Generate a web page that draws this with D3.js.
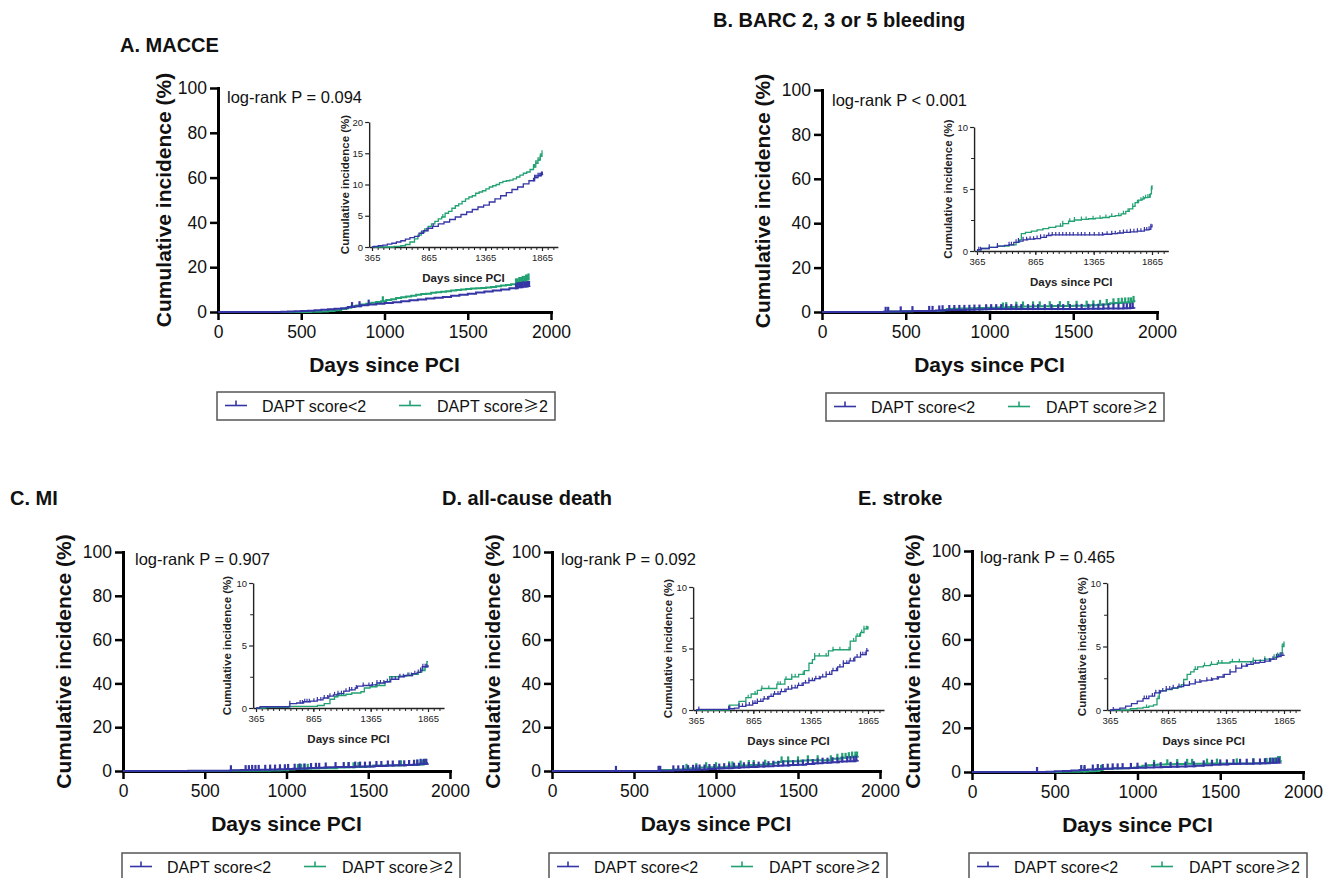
<!DOCTYPE html>
<html><head><meta charset="utf-8">
<script src="https://cdn.jsdelivr.net/npm/d3@7"></script>
<style>
body{margin:0;background:#fff;}
text{font-family:"Liberation Sans",Arial,sans-serif;}
</style></head>
<body><svg id="chart" width="1325" height="878"></svg>
<script>
// ---------------- DATA ----------------
const groupNames = ["DAPT score<2", "DAPT score\u22652"];
const mainXTicks = [0, 500, 1000, 1500, 2000];
const mainYTicks = [0, 20, 40, 60, 80, 100];
const insetXTicks = [365, 865, 1365, 1865];

// A. MACCE
const daysA_lt2 = [0,380,420,460,500,540,580,620,660,700,740,780,820,860,900,950,1000,1050,1100,1150,1200,1250,1300,1350,1400,1450,1500,1550,1600,1650,1700,1750,1800,1830,1860,1870];
const pctA_lt2  = [0,0.1,0.2,0.3,0.45,0.6,0.8,1.0,1.25,1.5,1.7,2.2,2.6,3.0,3.3,3.7,4.0,4.4,4.8,5.2,5.6,6.0,6.4,6.7,7.2,7.7,8.2,8.7,9.2,9.6,10.1,10.6,11.1,11.4,11.6,11.7];
const daysA_ge2 = [0,500,560,620,660,700,740,770,800,830,860,890,920,950,980,1010,1040,1070,1100,1130,1160,1190,1220,1250,1280,1310,1340,1370,1400,1430,1460,1490,1520,1550,1580,1610,1640,1670,1700,1730,1760,1790,1810,1830,1850,1865];
const pctA_ge2  = [0,0,0.1,0.2,0.4,0.8,1.3,1.9,2.4,2.9,3.3,3.7,4.1,4.5,4.8,5.4,5.7,6.2,6.6,6.9,7.3,7.7,8.0,8.2,8.6,8.8,9.0,9.3,9.6,9.8,10.0,10.3,10.5,10.6,10.7,10.9,11.2,11.5,11.8,12.0,12.4,12.8,13.4,13.9,14.5,15.0];
const censA_lt2 = [805,850,905,1790,1800,1810,1820,1830,1840,1850,1860,1868];
const censA_ge2 = [990,1790,1800,1810,1820,1830,1840,1850,1858,1865];

// B. BARC 2, 3 or 5 bleeding
const daysB_lt2 = [0,370,400,470,540,600,640,680,720,760,800,860,910,960,1000,1450,1520,1570,1620,1680,1740,1800,1840,1855,1865];
const pctB_lt2  = [0,0.1,0.2,0.3,0.4,0.45,0.5,0.7,0.8,0.9,0.95,1.0,1.1,1.25,1.3,1.35,1.4,1.45,1.5,1.55,1.6,1.7,1.75,1.95,2.15];
const daysB_ge2 = [0,370,400,470,540,640,700,730,745,780,830,880,930,980,1040,1100,1150,1200,1260,1320,1380,1440,1500,1550,1600,1640,1670,1700,1720,1750,1780,1800,1830,1850,1860,1865];
const pctB_ge2  = [0,0.1,0.2,0.3,0.4,0.5,0.7,0.9,1.4,1.5,1.6,1.7,1.8,1.9,2.0,2.2,2.4,2.5,2.55,2.6,2.65,2.7,2.8,2.85,3.0,3.2,3.4,3.6,3.9,4.1,4.2,4.3,4.35,4.6,5.0,5.3];
const censB_lt2 = [380,395,470,540,640,660,700,720,760,790,820,850,880,910,940,980,1010,1040,1070,1100,1130,1160,1190,1230,1260,1290,1330,1370,1410,1440,1480,1520,1550,1590,1620,1650,1680,1710,1740,1770,1800,1820,1840,1855];
const censB_ge2 = [1080,1100,1160,1200,1260,1300,1360,1420,1470,1520,1580,1620,1660,1700,1740,1770,1790,1810,1830,1845,1860];

// C. MI
const daysC_lt2 = [0,400,660,720,780,840,900,950,1000,1040,1080,1130,1180,1230,1250,1300,1370,1420,1490,1540,1610,1660,1730,1770,1800,1815,1865];
const pctC_lt2  = [0,0.1,0.35,0.4,0.5,0.55,0.65,0.8,0.95,1.05,1.15,1.35,1.45,1.6,1.75,1.8,1.85,2.0,2.1,2.3,2.5,2.6,2.75,2.85,3.0,3.3,3.45];
const daysC_ge2 = [0,450,650,900,960,1010,1050,1080,1150,1200,1280,1310,1360,1420,1490,1530,1610,1680,1730,1780,1810,1840,1855,1865];
const pctC_ge2  = [0,0.05,0.13,0.2,0.35,0.7,0.9,1.0,1.1,1.2,1.3,1.6,1.7,1.8,2.1,2.5,2.55,2.6,2.7,2.85,3.0,3.3,3.7,3.7];
const censC_lt2 = [660,750,770,790,810,830,870,900,930,960,990,1010,1050,1080,1110,1150,1180,1200,1240,1300,1350,1380,1420,1450,1480,1510,1550,1580,1620,1650,1690,1720,1750,1780,1800,1820,1840,1855];
const censC_ge2 = [1070,1090,1110,1130,1380,1410,1440,1700,1800,1830,1850];

// D. all-cause death
const daysD_lt2 = [0,385,650,700,740,800,860,900,950,1000,1040,1100,1150,1200,1250,1300,1350,1400,1450,1500,1550,1600,1650,1700,1750,1800,1850,1865];
const pctD_lt2  = [0,0.05,0.1,0.15,0.3,0.4,0.55,0.7,0.9,1.1,1.3,1.5,1.7,1.8,2.0,2.2,2.4,2.55,2.7,2.9,3.2,3.5,3.8,4.0,4.3,4.5,4.8,4.9];
const daysD_ge2 = [0,655,740,800,846,900,935,1070,1140,1200,1260,1310,1350,1380,1400,1520,1560,1710,1760,1800,1830,1865];
const pctD_ge2  = [0,0.4,0.7,1.0,1.3,1.6,1.75,2.1,2.5,2.7,2.9,3.2,3.8,4.1,4.4,4.8,4.9,5.6,6.0,6.3,6.6,6.8];
const censD_lt2 = [390,650,660,740,770,800,830,860,880,900,930,960,990,1020,1050,1080,1110,1140,1170,1200,1230,1260,1290,1320,1350,1380,1410,1440,1470,1500,1530,1560,1590,1620,1650,1680,1710,1740,1770,1800,1820,1840,1855];
const censD_ge2 = [820,880,940,1000,1080,1100,1150,1200,1230,1300,1400,1440,1500,1560,1620,1700,1740,1770,1790,1810,1830,1850,1860];

// E. stroke
const daysE_lt2 = [0,365,400,450,500,550,600,650,700,750,800,850,900,950,1000,1050,1100,1150,1200,1250,1300,1350,1400,1450,1500,1550,1600,1650,1700,1750,1800,1840,1865];
const pctE_lt2  = [0,0,0.05,0.15,0.3,0.5,0.7,0.9,1.1,1.35,1.5,1.65,1.75,1.85,1.95,2.05,2.2,2.3,2.35,2.45,2.6,2.8,3.0,3.3,3.45,3.6,3.7,3.75,3.85,4.0,4.2,4.3,4.35];
const daysE_ge2 = [0,540,600,650,700,740,770,790,800,850,900,950,980,1000,1030,1060,1090,1120,1170,1230,1290,1400,1600,1700,1780,1810,1835,1850,1865];
const pctE_ge2  = [0,0.1,0.15,0.2,0.3,0.4,0.9,1.4,1.5,1.6,1.7,1.8,2.0,2.4,2.8,3.0,3.2,3.4,3.5,3.6,3.7,3.8,3.9,4.0,4.15,4.3,4.5,5.0,5.4];
const censE_lt2 = [393,660,680,730,760,790,820,850,880,910,960,1000,1050,1100,1140,1200,1240,1290,1340,1400,1450,1500,1540,1580,1620,1660,1700,1740,1770,1800,1820,1840,1855];
const censE_ge2 = [680,780,1100,1180,1240,1300,1330,1420,1480,1600,1700,1780,1810,1830,1850,1860];

const titles = ["A. MACCE", "B. BARC 2, 3 or 5 bleeding", "C. MI", "D. all-cause death", "E. stroke"];
const pTexts = ["log-rank P = 0.094", "log-rank P < 0.001", "log-rank P = 0.907", "log-rank P = 0.092", "log-rank P = 0.465"];
const insetMax = [20, 10, 10, 10, 10];
const insetYTicksA = [0, 5, 10, 15, 20];
const insetYTicks = [0, 5, 10];

// ---------------- LAYOUT ----------------
const colors = ["#3535a5", "#22a172"];
const panels = [
  {title:{x:120,y:52}, m:{x0:218,x1:551,y0:312,y1:88}, ylab:163, p:{x:227,y:103},
   ins:{xL:372,xR:542,y0:247,yT:122,ylab:345}, leg:{x:217,y:392},
   series:[[daysA_lt2,pctA_lt2,censA_lt2],[daysA_ge2,pctA_ge2,censA_ge2]]},
  {title:{x:713,y:27}, m:{x0:822,x1:1157,y0:312,y1:90}, ylab:762, p:{x:832,y:106},
   ins:{xL:977,xR:1152,y0:251,yT:127,ylab:948}, leg:{x:826,y:393},
   series:[[daysB_lt2,pctB_lt2,censB_lt2],[daysB_ge2,pctB_ge2,censB_ge2]]},
  {title:{x:10,y:505}, m:{x0:123,x1:450,y0:771,y1:552}, ylab:63, p:{x:135,y:565},
   ins:{xL:256,xR:428,y0:708,yT:583,ylab:227}, leg:{x:122,y:853},
   series:[[daysC_lt2,pctC_lt2,censC_lt2],[daysC_ge2,pctC_ge2,censC_ge2]]},
  {title:{x:442,y:505}, m:{x0:552,x1:880,y0:771,y1:552}, ylab:492, p:{x:561,y:565},
   ins:{xL:696,xR:868,y0:710,yT:587,ylab:668}, leg:{x:549,y:853},
   series:[[daysD_lt2,pctD_lt2,censD_lt2],[daysD_ge2,pctD_ge2,censD_ge2]]},
  {title:{x:858,y:505}, m:{x0:972,x1:1303,y0:772,y1:551}, ylab:912, p:{x:980,y:563},
   ins:{xL:1110,xR:1284,y0:710,yT:583,ylab:1082}, leg:{x:969,y:853},
   series:[[daysE_lt2,pctE_lt2,censE_lt2],[daysE_ge2,pctE_ge2,censE_ge2]]}
];

const svg = d3.select("#chart");
svg.append("rect").attr("width",1325).attr("height",878).attr("fill","#fff");

function stepVal(days, vals, d){
  const i = d3.bisectRight(days, d) - 1;
  return vals[Math.max(0,i)];
}

panels.forEach((P, pi) => {
  const g = svg.append("g");
  g.append("text").attr("x",P.title.x).attr("y",P.title.y)
    .attr("font-size",20).attr("font-weight","bold").attr("fill","#111").text(titles[pi]);

  // ----- main plot -----
  const x = d3.scaleLinear().domain([0,2000]).range([P.m.x0,P.m.x1]);
  const y = d3.scaleLinear().domain([0,100]).range([P.m.y0,P.m.y1]);
  const xa = g.append("g").attr("transform",`translate(0,${P.m.y0})`)
    .call(d3.axisBottom(x).tickValues(mainXTicks).tickFormat(d3.format("d")).tickSize(8).tickSizeOuter(0).tickPadding(6));
  const ya = g.append("g").attr("transform",`translate(${P.m.x0},0)`)
    .call(d3.axisLeft(y).tickValues(mainYTicks).tickSize(8).tickSizeOuter(0).tickPadding(3));
  [xa,ya].forEach(a=>{
    a.select(".domain").attr("stroke","#000").attr("stroke-width",3).attr("stroke-linecap","square");
    a.selectAll(".tick line").attr("stroke","#000").attr("stroke-width",2.5);
    a.selectAll(".tick text").attr("font-size",17.5).attr("fill","#111")
      .attr("font-family","'Liberation Sans',Arial,sans-serif");
  });
  g.append("text").attr("transform",`translate(${P.ylab},${(P.m.y0+P.m.y1)/2}) rotate(-90)`)
    .attr("text-anchor","middle").attr("dominant-baseline","central")
    .attr("font-size",21).attr("font-weight","bold").attr("fill","#111").text("Cumulative incidence (%)");
  g.append("text").attr("x",(P.m.x0+P.m.x1)/2).attr("y",P.m.y0+60)
    .attr("text-anchor","middle").attr("font-size",21).attr("font-weight","bold").attr("fill","#111")
    .text("Days since PCI");
  g.append("text").attr("x",P.p.x).attr("y",P.p.y).attr("font-size",16.5).attr("fill","#111").text(pTexts[pi]);

  const lineMain = d3.line().x(d=>x(d[0])).y(d=>y(d[1])).curve(d3.curveStepAfter);
  [1,0].forEach(si=>{
    const [days, vals, cens] = P.series[si];
    const pts = days.map((d,i)=>[d,vals[i]]);
    g.append("path").datum(pts).attr("d",lineMain).attr("fill","none")
      .attr("stroke",colors[si]).attr("stroke-width",2);
    g.append("g").selectAll("line").data(cens).join("line")
      .attr("x1",d=>x(d)).attr("x2",d=>x(d))
      .attr("y1",d=>y(stepVal(days,vals,d))+1).attr("y2",d=>y(stepVal(days,vals,d))-5)
      .attr("stroke",colors[si]).attr("stroke-width",2.2);
  });

  // ----- inset -----
  const ymax = insetMax[pi];
  const xsBase = d3.scaleLinear().domain([365,1865]).range([P.ins.xL,P.ins.xR]);
  const xs = d3.scaleLinear().domain([340,2005]).range([xsBase(340),xsBase(2005)]);
  const ys = d3.scaleLinear().domain([0,ymax]).range([P.ins.y0,P.ins.yT]);
  const ig = g.append("g");
  const minorX = [];
  for (let d = 365; d <= 2000; d += 50) minorX.push(d);
  ig.append("g").attr("transform",`translate(0,${P.ins.y0})`)
    .call(d3.axisBottom(xs).tickValues(minorX).tickSize(3).tickFormat(""))
    .call(a=>{a.select(".domain").remove(); a.selectAll("line").attr("stroke","#222").attr("stroke-width",1);});
  const ixa = ig.append("g").attr("transform",`translate(0,${P.ins.y0})`)
    .call(d3.axisBottom(xs).tickValues(insetXTicks).tickFormat(d3.format("d")).tickSize(4).tickSizeOuter(0).tickPadding(3));
  const yTickVals = ymax === 20 ? insetYTicksA : insetYTicks;
  if (ymax === 10) {
    ig.append("g").attr("transform",`translate(${xs(340)},0)`)
      .call(d3.axisLeft(ys).tickValues([2.5,7.5]).tickSize(3).tickFormat(""))
      .call(a=>{a.select(".domain").remove(); a.selectAll("line").attr("stroke","#222").attr("stroke-width",1);});
  }
  const iya = ig.append("g").attr("transform",`translate(${xs(340)},0)`)
    .call(d3.axisLeft(ys).tickValues(yTickVals).tickSize(4).tickSizeOuter(0).tickPadding(2));
  [ixa,iya].forEach(a=>{
    a.select(".domain").attr("stroke","#222").attr("stroke-width",1.4);
    a.selectAll(".tick line").attr("stroke","#222").attr("stroke-width",1.2);
    a.selectAll(".tick text").attr("font-size",9.5).attr("fill","#222")
      .attr("font-family","'Liberation Sans',Arial,sans-serif");
  });
  ig.append("text").attr("transform",`translate(${P.ins.ylab},${(P.ins.y0+P.ins.yT)/2}) rotate(-90)`)
    .attr("text-anchor","middle").attr("dominant-baseline","central")
    .attr("font-size",11.5).attr("font-weight","bold").attr("fill","#222").text("Cumulative incidence (%)");
  ig.append("text").attr("x",(xs(340)+xs(2005))/2).attr("y",P.ins.y0+35)
    .attr("text-anchor","middle").attr("font-size",11.5).attr("font-weight","bold").attr("fill","#222")
    .text("Days since PCI");

  const clipId = "clip"+pi;
  svg.append("clipPath").attr("id",clipId).append("rect")
    .attr("x",xs(365)).attr("y",P.ins.yT-10).attr("width",xs(2005)-xs(365)).attr("height",P.ins.y0-P.ins.yT+12);
  const lineIns = d3.line().x(d=>xs(d[0])).y(d=>ys(d[1])).curve(d3.curveStepAfter);
  const cg = ig.append("g").attr("clip-path",`url(#${clipId})`);
  [1,0].forEach(si=>{
    const [days, vals, cens] = P.series[si];
    const pts = days.map((d,i)=>[d,vals[i]]);
    cg.append("path").datum(pts).attr("d",lineIns).attr("fill","none")
      .attr("stroke",colors[si]).attr("stroke-width",1.3);
    cg.append("g").selectAll("line").data(cens).join("line")
      .attr("x1",d=>xs(d)).attr("x2",d=>xs(d))
      .attr("y1",d=>ys(stepVal(days,vals,d))+0.5).attr("y2",d=>ys(stepVal(days,vals,d))-3)
      .attr("stroke",colors[si]).attr("stroke-width",1.2);
  });

  // ----- legend -----
  const L = P.leg.x, T = P.leg.y;
  const lg = g.append("g");
  lg.append("rect").attr("x",L).attr("y",T).attr("width",338).attr("height",28)
    .attr("fill","none").attr("stroke","#555").attr("stroke-width",1.5);
  const items = [{sx:L+8, tx:L+45}, {sx:L+182, tx:L+220}];
  items.forEach((it,si)=>{
    const cy = T+13.5;
    lg.append("line").attr("x1",it.sx).attr("x2",it.sx+22).attr("y1",cy).attr("y2",cy)
      .attr("stroke",colors[si]).attr("stroke-width",1.6);
    lg.append("line").attr("x1",it.sx+11).attr("x2",it.sx+11).attr("y1",cy).attr("y2",cy-5)
      .attr("stroke",colors[si]).attr("stroke-width",1.6);
    const t = lg.append("text").attr("x",it.tx).attr("y",T+19.5).attr("font-size",16).attr("fill","#111");
    if (si === 0) t.text(groupNames[0]);
    else {
      t.append("tspan").text(groupNames[1].slice(0,-2));
      t.append("tspan").attr("font-family","'Noto Sans CJK SC'").text(groupNames[1].slice(-2,-1));
      t.append("tspan").text(groupNames[1].slice(-1));
    }
  });
});
</script></body></html>
